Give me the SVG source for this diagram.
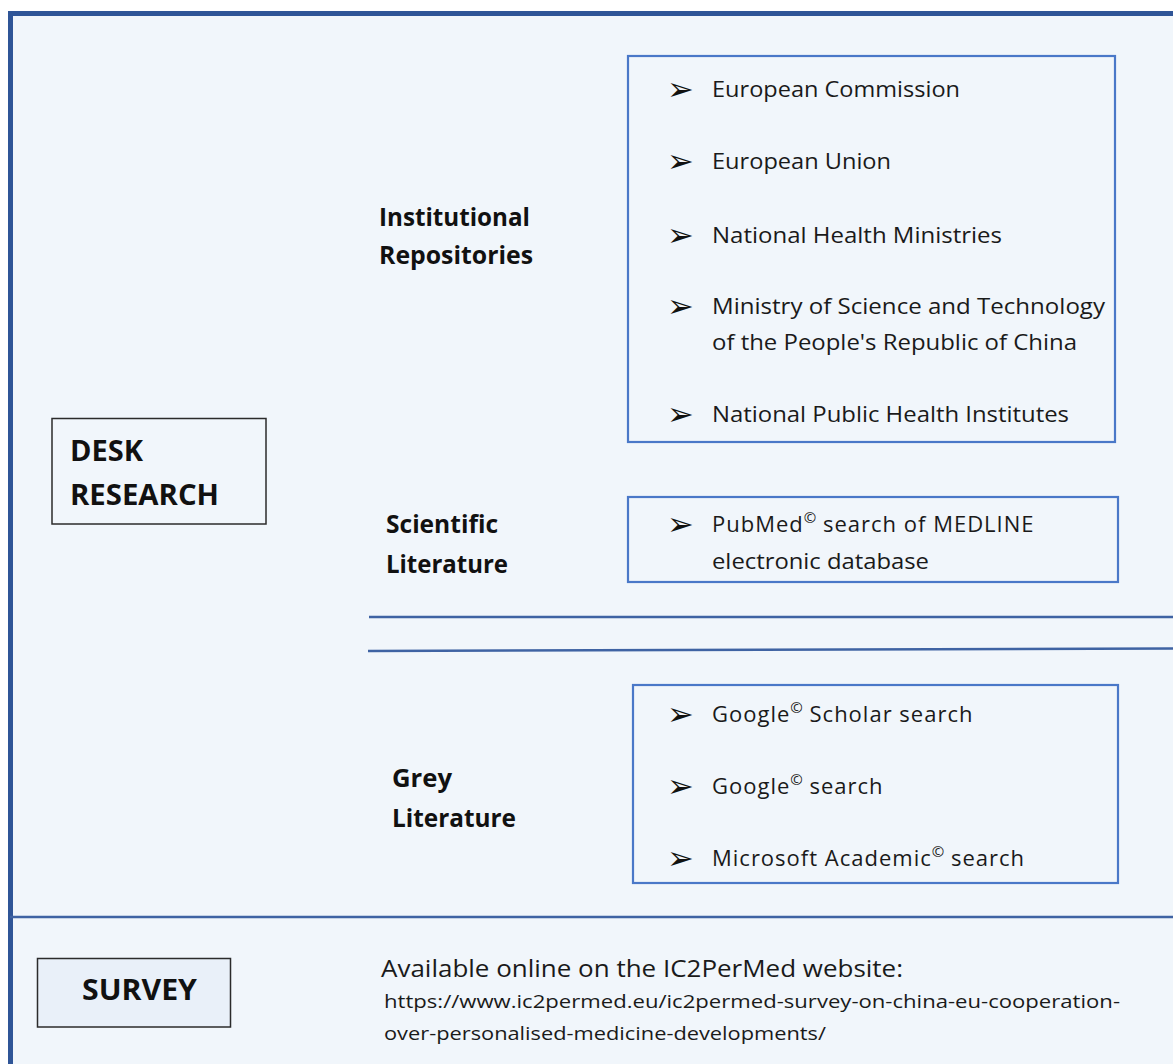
<svg xmlns="http://www.w3.org/2000/svg" width="1173" height="1064" viewBox="0 0 1173 1064">
<style>
.bg{fill:#f1f6fb}
.frame{fill:none;stroke:#2f5597;stroke-width:5}
.sep{stroke:#3f63a3;stroke-width:2.5;fill:none}
.box{fill:none;stroke:#4a78c8;stroke-width:2.2}
.kbox{fill:none;stroke:#2b2b2b;stroke-width:1.5}
.item{font-family:"Open Sans","Noto Sans",sans-serif;font-size:22px;fill:#1a1a1a}
.sp{letter-spacing:1px}
.bul{font-family:"DejaVu Sans",sans-serif;font-size:32px;fill:#111}
.lab{font-family:"Open Sans","Noto Sans",sans-serif;font-weight:bold;font-size:25px;fill:#111}
.big{font-family:"Open Sans","Noto Sans",sans-serif;font-weight:bold;font-size:28px;fill:#111}
.sup{font-size:15px;letter-spacing:0}
.avail{font-family:"Open Sans","Noto Sans",sans-serif;font-size:24px;fill:#1a1a1a}
.url{font-family:"Open Sans","Noto Sans",sans-serif;font-size:19px;fill:#1a1a1a}
</style>
<rect x="0" y="0" width="1173" height="1064" fill="#ffffff"/>
<rect class="bg" x="10.5" y="13.5" width="1170" height="1060"/>
<path class="frame" d="M10.5,1070 V13.5 H1180"/>

<g id="connectors">
<line class="sep" x1="369" y1="617" x2="1173" y2="617"/>
<line class="sep" x1="368" y1="651" x2="1173" y2="648.5"/>
<line class="sep" x1="10" y1="917" x2="1173" y2="917"/>
</g>

<g id="desk-research">
<rect class="kbox" x="52" y="418.5" width="214" height="105.5"/>
<text class="big" x="70" y="461" textLength="73" lengthAdjust="spacingAndGlyphs">DESK</text>
<text class="big" x="70" y="505" textLength="149" lengthAdjust="spacingAndGlyphs">RESEARCH</text>
</g>

<g id="institutional-label">
<text class="lab" x="379" y="226" textLength="151" lengthAdjust="spacingAndGlyphs">Institutional</text>
<text class="lab" x="379" y="264" textLength="154" lengthAdjust="spacingAndGlyphs">Repositories</text>
</g>

<g id="institutional-box">
<rect class="box" x="628" y="56" width="487" height="386"/>
<text class="bul" x="667" y="100">➢</text>
<text class="item" x="712" y="97" textLength="248" lengthAdjust="spacingAndGlyphs">European Commission</text>
<text class="bul" x="667" y="172">➢</text>
<text class="item" x="712" y="169" textLength="179" lengthAdjust="spacingAndGlyphs">European Union</text>
<text class="bul" x="667" y="246">➢</text>
<text class="item" x="712" y="243" textLength="290" lengthAdjust="spacingAndGlyphs">National Health Ministries</text>
<text class="bul" x="667" y="317">➢</text>
<text class="item" x="712" y="314" textLength="393" lengthAdjust="spacingAndGlyphs">Ministry of Science and Technology</text>
<text class="item" x="712" y="350" textLength="365" lengthAdjust="spacingAndGlyphs">of the People's Republic of China</text>
<text class="bul" x="667" y="425">➢</text>
<text class="item" x="712" y="422" textLength="357" lengthAdjust="spacingAndGlyphs">National Public Health Institutes</text>
</g>

<g id="scientific-label">
<text class="lab" x="386" y="533" textLength="112" lengthAdjust="spacingAndGlyphs">Scientific</text>
<text class="lab" x="386" y="573" textLength="122" lengthAdjust="spacingAndGlyphs">Literature</text>
</g>

<g id="scientific-box">
<rect class="box" x="628" y="497" width="490" height="85"/>
<text class="bul" x="667" y="535">➢</text>
<text class="item sp" x="712" y="532">PubMed<tspan class="sup" dy="-9">©</tspan><tspan dy="9"> search of MEDLINE</tspan></text>
<text class="item" x="712" y="569" textLength="217" lengthAdjust="spacingAndGlyphs">electronic database</text>
</g>

<g id="grey-label">
<text class="lab" x="392" y="787" textLength="60" lengthAdjust="spacingAndGlyphs">Grey</text>
<text class="lab" x="392" y="827" textLength="124" lengthAdjust="spacingAndGlyphs">Literature</text>
</g>

<g id="grey-box">
<rect class="box" x="633" y="685" width="485" height="198"/>
<text class="bul" x="667" y="725">➢</text>
<text class="item sp" x="712" y="722">Google<tspan class="sup" dy="-9">©</tspan><tspan dy="9"> Scholar search</tspan></text>
<text class="bul" x="667" y="797">➢</text>
<text class="item sp" x="712" y="794">Google<tspan class="sup" dy="-9">©</tspan><tspan dy="9"> search</tspan></text>
<text class="bul" x="667" y="869">➢</text>
<text class="item sp" x="712" y="866">Microsoft Academic<tspan class="sup" dy="-9">©</tspan><tspan dy="9"> search</tspan></text>
</g>

<g id="survey">
<rect x="37.5" y="958.5" width="193" height="68.5" fill="#e9f0f9" stroke="#2b2b2b" stroke-width="1.5"/>
<text class="big" x="82" y="1000" textLength="115" lengthAdjust="spacingAndGlyphs">SURVEY</text>
</g>

<g id="survey-text">
<text class="avail" x="381" y="977" textLength="522" lengthAdjust="spacingAndGlyphs">Available online on the IC2PerMed website:</text>
<text class="url" x="384" y="1008" textLength="736" lengthAdjust="spacingAndGlyphs">https://www.ic2permed.eu/ic2permed-survey-on-china-eu-cooperation-</text>
<text class="url" x="384" y="1040" textLength="442" lengthAdjust="spacingAndGlyphs">over-personalised-medicine-developments/</text>
</g>
</svg>
